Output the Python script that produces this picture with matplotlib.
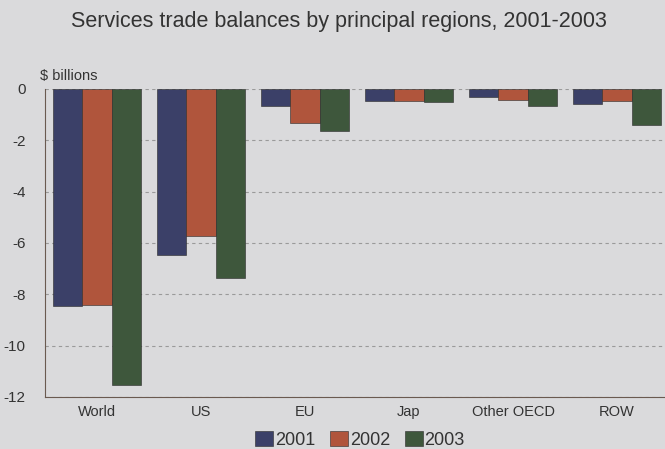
import numpy as np
import matplotlib.pyplot as plt

regions = ["World", "US", "EU", "Jap", "Other OECD", "ROW"]
years = ["2001", "2002", "2003"]
bal_2001 = [-8.45, -6.45, -0.68, -0.45, -0.30, -0.58]
bal_2002 = [-8.40, -5.72, -1.33, -0.47, -0.42, -0.45]
bal_2003 = [-11.55, -7.35, -1.62, -0.50, -0.68, -1.42]
y_ticks = [0, -2, -4, -6, -8, -10, -12]

colors = ["#3b4068", "#b0553c", "#3e573c"]
bg = "#dadadc"

plt.rcParams['font.family'] = ['Liberation Sans', 'DejaVu Sans']

fig = plt.figure(figsize=(6.65, 4.49), dpi=100, facecolor=bg)
ax = fig.add_axes([45 / 665, 1 - 397 / 449, 624 / 665, 308 / 449], facecolor=bg)

x = np.arange(len(regions))
w = 0.28
for i, (vals, yr) in enumerate(zip([bal_2001, bal_2002, bal_2003], years)):
    ax.bar(x + (i - 1) * w, vals, width=w, color=colors[i], edgecolor="#2a2a2a",
           linewidth=0.4, label=yr, zorder=3)

ax.set_xlim(-0.5, len(regions) - 0.5)
ax.set_ylim(-12, 0)
ax.set_yticks(y_ticks)
ax.set_yticklabels([str(t) for t in y_ticks], fontsize=11, color="#333333")
ax.set_xticks(x)
ax.set_xticklabels(regions, fontsize=10.5, color="#333333")
ax.tick_params(axis="both", length=0, pad=14)
ax.tick_params(axis="x", pad=6)
ax.yaxis.grid(True, linestyle=(0, (3, 3)), color="#9a9a9a", linewidth=0.8, zorder=0)

for s in ["top", "right"]:
    ax.spines[s].set_visible(False)
ax.spines["left"].set_color("#6a5a50")
ax.spines["bottom"].set_color("#6a5a50")

fig.text(0.51, 1 - 22 / 449, "Services trade balances by principal regions, 2001-2003",
         ha="center", va="center", fontsize=15.5, color="#333333")
fig.text(40 / 665, 1 - 76 / 449, "$ billions", ha="left", va="center",
         fontsize=10.5, color="#333333")

ax.legend(loc="center", bbox_to_anchor=(360 / 665, 1 - 440 / 449),
          bbox_transform=fig.transFigure, ncol=3, frameon=False,
          fontsize=13, handlelength=1.0, handleheight=0.9,
          handletextpad=0.1, columnspacing=0.8, labelcolor="#333333")

fig.savefig("out.png", dpi=100, facecolor=bg)
